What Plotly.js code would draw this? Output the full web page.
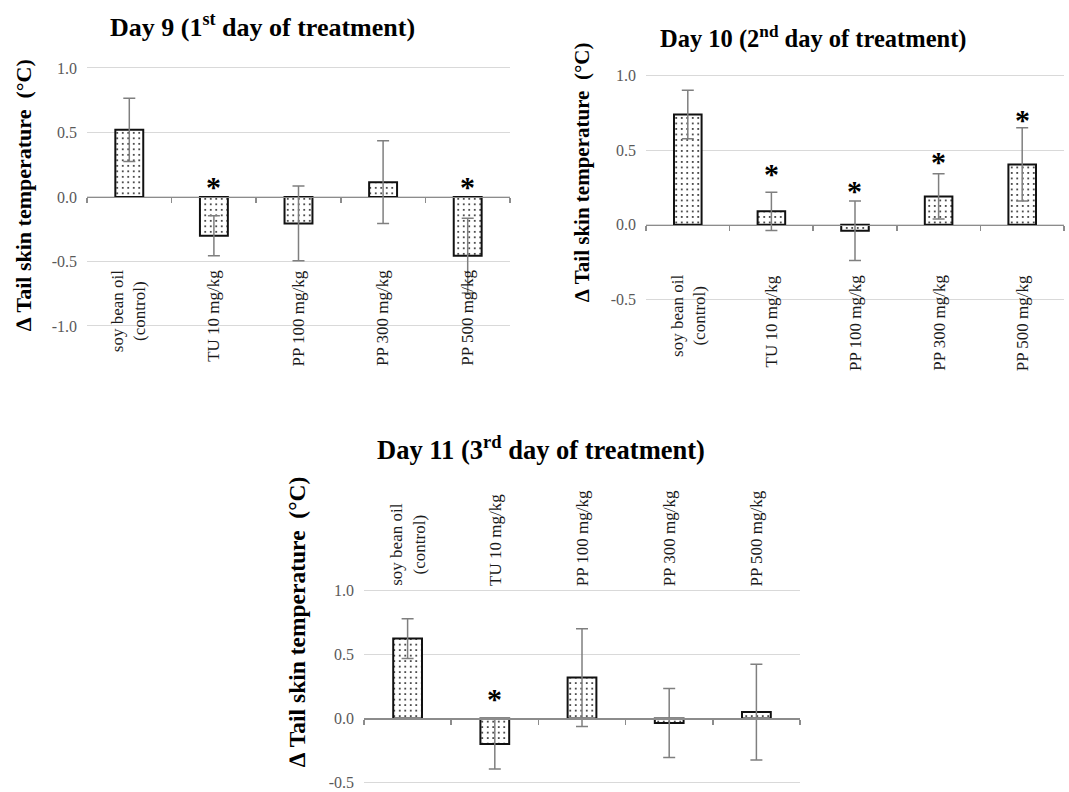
<!DOCTYPE html>
<html>
<head>
<meta charset="utf-8">
<script src="https://cdn.plot.ly/plotly-3.0.1.min.js"></script>
<style>
  html, body { margin: 0; padding: 0; background: #fff; }
  #chart { width: 1069px; height: 792px; }
</style>
</head>
<body>
<div id="chart"></div>
<script>
// Treatment groups (x categories, shared by all three panels)
const groups = ['soy bean oil<br>(control)', 'TU 10 mg/kg', 'PP 100 mg/kg', 'PP 300 mg/kg', 'PP 500 mg/kg'];

// Mean change in tail skin temperature (°C) and error (±) per day
const day9Mean = [0.52, -0.30, -0.205, 0.115, -0.455];
const day9Err = [0.245, 0.155, 0.29, 0.32, 0.29];
const day10Mean = [0.74, 0.09, -0.04, 0.19, 0.405];
const day10Err = [0.163, 0.128, 0.20, 0.152, 0.245];
const day11Mean = [0.625, -0.20, 0.32, -0.035, 0.05];
const day11Err = [0.155, 0.195, 0.383, 0.27, 0.375];

// Significance markers (y position of each asterisk, null = none)
const day9Star = [null, 0.108, null, null, 0.108];
const day10Star = [null, 0.362, 0.25, 0.445, 0.725];
const day11Star = [null, 0.177, null, null, null];

// Panel titles
const day9Title = 'Day 9 (1<sup>st</sup> day of treatment)';
const day10Title = 'Day 10 (2<sup>nd</sup> day of treatment)';
const day11Title = 'Day 11 (3<sup>rd</sup> day of treatment)';
const yTitle = '∆ Tail skin temperature  (°C)';

// Y tick values and labels
const day9TickVals = [-1.0, -0.5, 0.0, 0.5, 1.0];
const day9TickText = ['-1.0', '-0.5', '0.0', '0.5', '1.0'];
const day1011TickVals = [-0.5, 0.0, 0.5, 1.0];
const day1011TickText = ['-0.5', '0.0', '0.5', '1.0'];

const SERIF = '"Liberation Serif", "Times New Roman", serif';

function barTrace(mean, err, n) {
  return {
    type: 'bar',
    x: groups,
    y: mean,
    xaxis: 'x' + n,
    yaxis: 'y' + n,
    width: 0.33,
    marker: {
      color: '#ffffff',
      line: { color: '#111111', width: 2 },
      pattern: { shape: '.', fgcolor: '#111111', bgcolor: '#ffffff', size: 5.5, solidity: 0.09 }
    },
    error_y: { type: 'data', array: err, visible: true, color: '#7f7f7f', thickness: 1.5, width: 6 },
    hoverinfo: 'x+y',
    showlegend: false
  };
}

// Position (paper fraction) of y = 0 inside a panel, so the category axis sits on zero
function zeroPos(dom, rng) {
  return dom[0] + (0 - rng[0]) / (rng[1] - rng[0]) * (dom[1] - dom[0]);
}

const panels = [
  { n: 1, mean: day9Mean, err: day9Err, star: day9Star, title: day9Title,
    xdom: [0.08138, 0.47708], ydom: [0.5835, 0.9191], range: [-1.03, 1.03],
    tv: day9TickVals, tt: day9TickText,
    titleXY: [262, 25], titleSize: 26, yTitleXY: [23, 195], yTitleSize: 22,
    labelY: -0.55, labelAnchor: 'top' },
  { n: 2, mean: day10Mean, err: day10Err, star: day10Star, title: day10Title,
    xdom: [0.60430, 0.99532], ydom: [0.6183, 0.9101], range: [-0.52, 1.03],
    tv: day1011TickVals, tt: day1011TickText,
    titleXY: [813, 37], titleSize: 24.5, yTitleXY: [582, 173], yTitleSize: 21,
    labelY: -0.324, labelAnchor: 'top' },
  { n: 3, mean: day11Mean, err: day11Err, star: day11Star, title: day11Title,
    xdom: [0.34051, 0.74836], ydom: [0.00896, 0.2590], range: [-0.52, 1.03],
    tv: day1011TickVals, tt: day1011TickText,
    titleXY: [541, 448], titleSize: 26.5, yTitleXY: [297, 622], yTitleSize: 23.5,
    labelY: 1.02, labelAnchor: 'bottom' }
];

const W = 1069, H = 792;
const traces = [];
const annotations = [];
const layout = {
  width: W, height: H,
  margin: { l: 0, r: 0, t: 0, b: 0 },
  paper_bgcolor: '#ffffff',
  plot_bgcolor: '#ffffff',
  showlegend: false,
  font: { family: SERIF, color: '#000000' }
};

panels.forEach(p => {
  traces.push(barTrace(p.mean, p.err, p.n));

  layout['xaxis' + p.n] = {
    domain: p.xdom,
    anchor: 'free',
    position: zeroPos(p.ydom, p.range),
    type: 'category',
    range: [-0.5, groups.length - 0.5],
    tickson: 'boundaries',
    ticks: 'outside',
    ticklen: 5,
    tickwidth: 1.5,
    tickcolor: '#8c8c8c',
    showline: true,
    linecolor: '#8c8c8c',
    linewidth: 1.5,
    showgrid: false,
    zeroline: false,
    showticklabels: false,
    fixedrange: true
  };
  layout['yaxis' + p.n] = {
    domain: p.ydom,
    anchor: 'x' + p.n,
    range: p.range,
    tickmode: 'array',
    tickvals: p.tv,
    ticktext: p.tt,
    ticks: '',
    ticklabelstandoff: 9,
    tickfont: { family: SERIF, size: 16, color: '#595959' },
    showgrid: true,
    gridcolor: '#d9d9d9',
    gridwidth: 1,
    zeroline: false,
    showline: false,
    fixedrange: true
  };

  // Panel title
  annotations.push({
    xref: 'paper', yref: 'paper',
    x: p.titleXY[0] / W, y: 1 - p.titleXY[1] / H,
    xanchor: 'center', yanchor: 'middle',
    text: '<b>' + p.title + '</b>',
    showarrow: false,
    font: { family: SERIF, size: p.titleSize, color: '#000000' }
  });
  // Y axis title
  annotations.push({
    xref: 'paper', yref: 'paper',
    x: p.yTitleXY[0] / W, y: 1 - p.yTitleXY[1] / H,
    xanchor: 'center', yanchor: 'middle',
    textangle: -90,
    text: '<b>' + yTitle + '</b>',
    showarrow: false,
    font: { family: SERIF, size: p.yTitleSize, color: '#000000' }
  });
  // Category labels, rotated
  groups.forEach(g => {
    annotations.push({
      xref: 'x' + p.n, yref: 'y' + p.n,
      x: g, y: p.labelY,
      xanchor: 'center', yanchor: p.labelAnchor,
      textangle: -90,
      text: g,
      showarrow: false,
      font: { family: SERIF, size: 17, color: '#1a1a1a' }
    });
  });
  // Asterisks
  p.star.forEach((s, i) => {
    if (s === null) return;
    annotations.push({
      xref: 'x' + p.n, yref: 'y' + p.n,
      x: groups[i], y: s,
      xanchor: 'center', yanchor: 'middle',
      yshift: -3,
      text: '<b>*</b>',
      showarrow: false,
      font: { family: SERIF, size: 30, color: '#000000' }
    });
  });
});

layout.annotations = annotations;

Plotly.newPlot('chart', traces, layout, { displayModeBar: false, staticPlot: true });
</script>
</body>
</html>
